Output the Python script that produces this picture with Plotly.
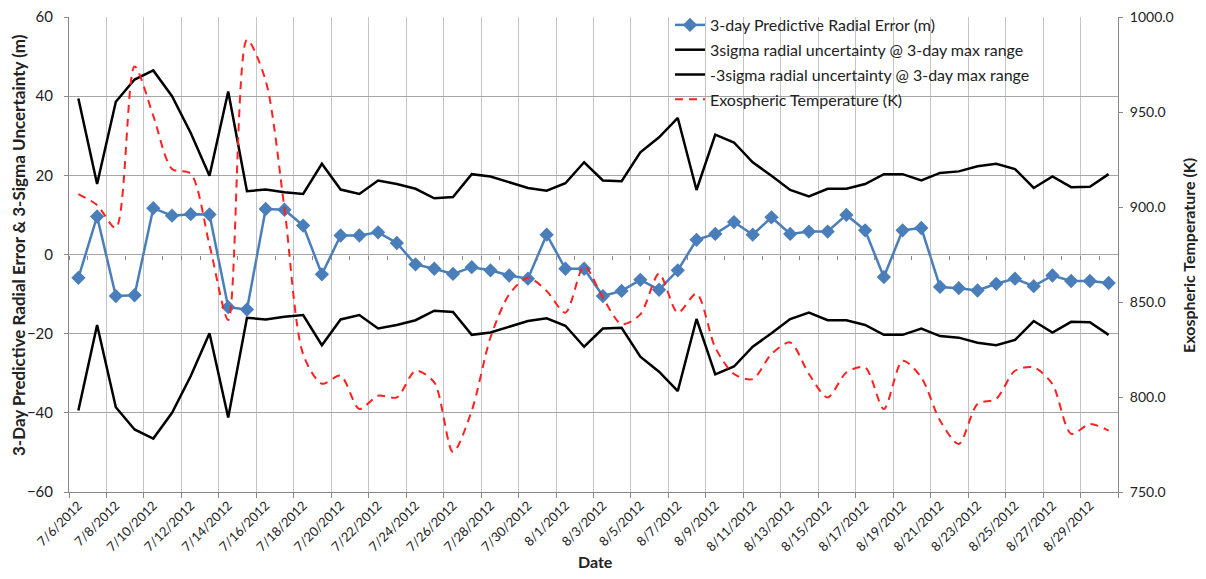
import pandas as pd
import plotly.graph_objects as go

dates = [f"{d.month}/{d.day}/{d.year}" for d in pd.date_range("2012-07-06", "2012-08-30")]

radial_error = [-5.9, 9.6, -10.5, -10.3, 11.7, 9.8, 10.2, 10.1, -13.3, -13.9,
                11.5, 11.3, 7.3, -5.0, 4.8, 4.8, 5.6, 2.9, -2.5, -3.6,
                -4.9, -3.2, -4.0, -5.3, -6.1, 5.0, -3.6, -3.6, -10.5, -9.2,
                -6.4, -8.9, -4.0, 3.7, 5.2, 8.2, 5.0, 9.4, 5.2, 5.8,
                5.8, 10.0, 6.1, -5.7, 6.1, 6.7, -8.2, -8.5, -9.1, -7.4,
                -6.1, -8.0, -5.3, -6.7, -6.7, -7.2]

sigma_pos = [39.4, 17.8, 38.6, 44.2, 46.5, 40.0, 30.7, 19.9, 41.2, 16.0,
             16.4, 15.7, 15.3, 22.9, 16.4, 15.3, 18.7, 17.8, 16.6, 14.2,
             14.5, 20.3, 19.7, 18.2, 16.8, 16.1, 18.0, 23.3, 18.7, 18.5,
             25.8, 29.6, 34.5, 16.3, 30.3, 28.3, 23.3, 19.9, 16.3, 14.7,
             16.6, 16.6, 17.8, 20.3, 20.3, 18.7, 20.6, 21.0, 22.3, 22.9,
             21.6, 16.8, 19.7, 17.0, 17.1, 20.3]

sigma_neg = [-39.4, -17.8, -38.6, -44.2, -46.5, -40.0, -30.7, -19.9, -41.2, -16.0,
             -16.4, -15.7, -15.3, -22.9, -16.4, -15.3, -18.7, -17.8, -16.6, -14.2,
             -14.5, -20.3, -19.7, -18.2, -16.8, -16.1, -18.0, -23.3, -18.7, -18.5,
             -25.8, -29.6, -34.5, -16.3, -30.3, -28.3, -23.3, -19.9, -16.3, -14.7,
             -16.6, -16.6, -17.8, -20.3, -20.3, -18.7, -20.6, -21.0, -22.3, -22.9,
             -21.6, -16.8, -19.7, -17.0, -17.1, -20.3]

temperature = [906.8, 901.0, 889.0, 974.0, 948.0, 920.0, 917.5, 880.0, 840.5, 988.0,
               966.5, 899.5, 822.5, 807.0, 811.2, 793.7, 800.7, 799.8, 813.8, 807.7,
               771.0, 792.8, 831.3, 854.0, 862.8, 855.8, 844.4, 868.9, 852.3, 838.3,
               843.5, 864.9, 844.4, 854.4, 826.0, 812.1, 809.4, 822.6, 828.7, 812.1,
               799.8, 812.9, 815.6, 793.7, 819.1, 810.3, 787.6, 775.3, 796.3, 799.0,
               813.8, 815.6, 806.8, 780.6, 785.8, 782.3]

left_ticks = [-60, -40, -20, 0, 20, 40, 60]
right_ticks = [750, 800, 850, 900, 950, 1000]

FONT = "Lato"
TXT = "#222222"
OFF = 8                      # page body margin
W, H = 1206 - 2 * OFF, 579 - 2 * OFF
# plot area in window pixels: left 69, right 1118, top 17, bottom 492
L, R, T, B = 69 - OFF, W - (1118 - OFF), 17 - OFF, H - (492 - OFF)
pw, ph = W - L - R, H - T - B

def px_x(x):
    return (x - OFF - L) / pw

def px_y(y):
    return (H - B - (y - OFF)) / ph

fig = go.Figure()

fig.add_trace(go.Scatter(
    x=dates, y=radial_error, name="3-day Predictive Radial Error (m)",
    mode="lines+markers", line=dict(color="#4a7ebb", width=2.5),
    marker=dict(symbol="diamond", size=11, color="#4a7ebb"),
    legendgroup="a"))
fig.add_trace(go.Scatter(
    x=dates, y=sigma_pos, name="3sigma radial uncertainty @ 3-day max range",
    mode="lines", line=dict(color="black", width=2.5), legendgroup="b"))
fig.add_trace(go.Scatter(
    x=dates, y=sigma_neg, name="-3sigma radial uncertainty @ 3-day max range",
    mode="lines", line=dict(color="black", width=2.5), legendgroup="c"))
fig.add_trace(go.Scatter(
    x=dates, y=temperature, name="Exospheric Temperature (K)", yaxis="y2",
    mode="lines", line=dict(color="#ff2020", width=2, dash="8px,6px", shape="spline", smoothing=0.8),
    legendgroup="d"))
# helper trace for the category axis crossing at zero
fig.add_trace(go.Scatter(x=[dates[0]], y=[None], xaxis="x2", yaxis="y",
                         showlegend=False, hoverinfo="skip"))

grid_h = "#a6a6a6"
grid_v = "#c4c4c4"

fig.update_layout(
    width=W, height=H,
    margin=dict(l=L, r=R, t=T, b=B, autoexpand=False),
    paper_bgcolor="white", plot_bgcolor="white",
    font=dict(family=FONT, size=14, color=TXT),
    showlegend=True,
    legend=dict(xref="container", yref="container",
                x=(670 - OFF) / W, y=1 - (3 - OFF) / H, xanchor="left", yanchor="top",
                bgcolor="rgba(0,0,0,0)", borderwidth=0,
                font=dict(family=FONT, size=16, color=TXT),
                traceorder="grouped", tracegroupgap=1),
    xaxis=dict(type="category", categoryorder="array", categoryarray=dates,
               range=[-0.5, len(dates) - 0.5], automargin=False,
               tickmode="linear", tick0=0, dtick=2, tickson="boundaries",
               tickangle=-45, tickfont=dict(family=FONT, size=13, color=TXT),
               ticks="outside", ticklen=5, tickcolor="#888888",
               showgrid=True, gridcolor=grid_v, gridwidth=1,
               showline=True, linecolor="#888888", linewidth=1,
               ticklabeloverflow="allow", zeroline=False),
    xaxis2=dict(type="category", categoryorder="array", categoryarray=dates,
                range=[-0.5, len(dates) - 0.5], overlaying="x", anchor="free", position=0.5,
                automargin=False,
                tickmode="linear", tick0=0, dtick=1, tickson="boundaries",
                ticks="outside", ticklen=4, tickcolor="#888888",
                showticklabels=False, showgrid=False, showline=False, zeroline=False),
    yaxis=dict(range=[-60, 60], tickvals=left_ticks, ticks="outside", ticklen=4,
               automargin=False, ticklabeloverflow="allow",
               tickcolor="#888888", showgrid=True, gridcolor=grid_h, gridwidth=1,
               showline=True, linecolor="#888888", linewidth=1, zeroline=False,
               ticklabelstandoff=8,
               tickfont=dict(family=FONT, size=15, color=TXT)),
    yaxis2=dict(range=[750, 1000], tickvals=right_ticks, tickformat=".1f",
                overlaying="y", side="right", ticks="outside", ticklen=4,
                automargin=False, ticklabeloverflow="allow",
                tickcolor="#888888", showgrid=False, showline=True,
                linecolor="#888888", linewidth=1, zeroline=False,
                ticklabelstandoff=4,
                tickfont=dict(family=FONT, size=14, color=TXT)),
    shapes=[dict(type="rect", xref="paper", yref="paper",
                 x0=px_x(608), x1=px_x(1112), y0=px_y(113), y1=1.05,
                 fillcolor="white", line=dict(width=0), layer="between")],
    annotations=[
        dict(text="<b>3-Day Predictive Radial Error &amp; 3-Sigma Uncertainty (m)</b>",
             xref="paper", yref="paper", x=px_x(18), y=px_y(245),
             xanchor="center", yanchor="middle", textangle=-90, showarrow=False,
             font=dict(family=FONT, size=17, color=TXT)),
        dict(text="<b>Exospheric Temperature (K)</b>",
             xref="paper", yref="paper", x=px_x(1189), y=px_y(256),
             xanchor="center", yanchor="middle", textangle=-90, showarrow=False,
             font=dict(family=FONT, size=16, color=TXT)),
        dict(text="<b>Date</b>",
             xref="paper", yref="paper", x=px_x(595), y=px_y(561),
             xanchor="center", yanchor="middle", showarrow=False,
             font=dict(family=FONT, size=16, color=TXT)),
    ],
)

fig.write_html("out.html")
